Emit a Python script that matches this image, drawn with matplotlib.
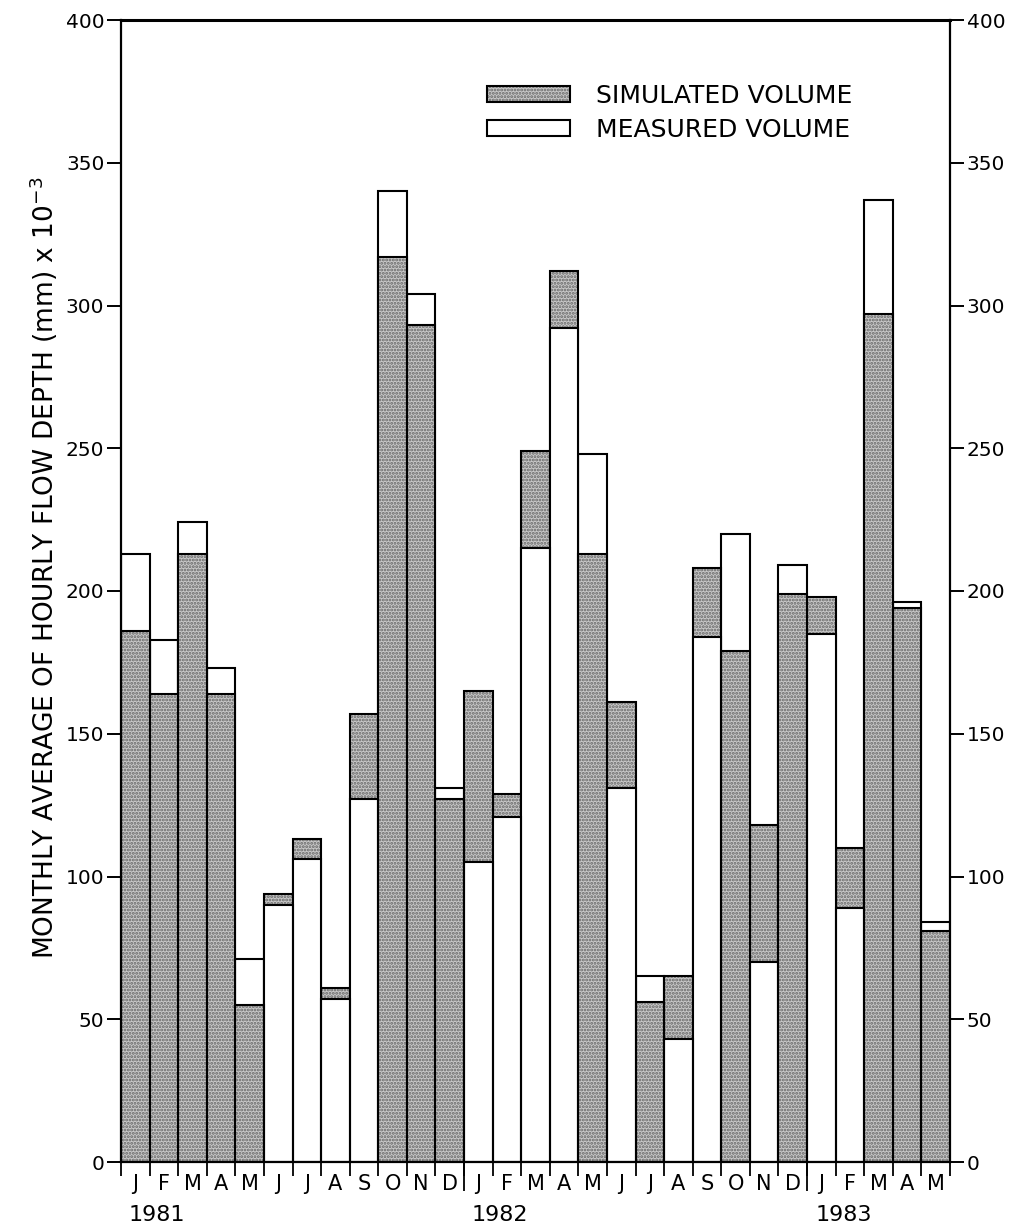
import numpy as np
import matplotlib
matplotlib.use("Agg")
import matplotlib.pyplot as plt
from matplotlib.patches import Patch
from matplotlib.transforms import blended_transform_factory

plt.rcParams["font.family"] = ["DejaVu Sans"]
plt.rcParams["hatch.linewidth"] = 1.4

# monthly values, Jan 1981 .. May 1983
months = list("JFMAMJJASOND") * 2 + list("JFMAM")
years = ["1981", "1982", "1983"]
simulated = [186, 164, 213, 164, 55, 94, 113, 61, 157, 317, 293, 127,
             165, 129, 249, 312, 213, 161, 56, 65, 208, 179, 118, 199,
             198, 110, 297, 194, 81]
measured = [213, 183, 224, 173, 71, 90, 106, 57, 127, 340, 304, 131,
            105, 121, 215, 292, 248, 131, 65, 43, 184, 220, 70, 209,
            185, 89, 337, 196, 84]

GREY = "#c8c8c8"
DOTS = "#666666"
EDGE_LW = 1.5

fig = plt.figure(figsize=(10.2, 12.32), dpi=100)
ax = fig.add_axes([121 / 1020, 1 - 1162 / 1232, 829 / 1020, 1142 / 1232])

n = len(months)
x = np.arange(n)


def draw_bar(i, value, kind, z):
    if kind == "sim":
        ax.bar(i, value, 1.0, color=GREY, hatch=".....", edgecolor=DOTS,
               linewidth=0, zorder=z)
    else:
        ax.bar(i, value, 1.0, color="white", linewidth=0, zorder=z)
    ax.bar(i, value, 1.0, fill=False, edgecolor="black", linewidth=EDGE_LW,
           zorder=z + 0.5)


# taller series goes behind, shorter one on top of it
for i in x:
    pair = sorted([(simulated[i], "sim"), (measured[i], "meas")], reverse=True)
    for k, (val, kind) in enumerate(pair):
        draw_bar(i, val, kind, 2 + 2 * k)

ax.set_xlim(-0.5, n - 0.5)
ax.set_ylim(0, 400)

for side in ["left", "right", "top", "bottom"]:
    ax.spines[side].set_linewidth(1.6)
    ax.spines[side].set_zorder(10)
ax.spines["top"].set_linewidth(2.2)

# y axis on both sides
ax.set_yticks(np.arange(0, 401, 50))
ax.tick_params(axis="y", which="major", left=True, right=True,
               labelleft=True, labelright=True, direction="out",
               length=10, width=1.4, labelsize=14.5, pad=2)

# month boundaries as ticks, month letters at bar centres
ax.set_xticks(np.arange(-0.5, n, 1.0))
ax.set_xticklabels([])
ax.tick_params(axis="x", which="major", direction="out", length=10,
               width=1.3)
ax.set_xticks(x, minor=True)
ax.set_xticklabels(months, minor=True)
ax.tick_params(axis="x", which="minor", length=0, labelsize=15, pad=9)

# longer ticks at year boundaries
sec = ax.secondary_xaxis("bottom")
sec.set_xticks([11.5, 23.5])
sec.set_xticklabels(["", ""])
sec.tick_params(axis="x", direction="out", length=21, width=1.3)
sec.spines["bottom"].set_visible(False)

trans = blended_transform_factory(ax.transData, ax.transAxes)
for k, yr in enumerate(years):
    ax.text(-0.5 + 12 * k + 0.28, -0.046, yr, transform=trans,
            ha="left", va="center", fontsize=16)

ax.set_ylabel(r"MONTHLY AVERAGE OF HOURLY FLOW DEPTH (mm) x 10$^{-3}$",
              fontsize=19, labelpad=4, y=0.52)

# legend
sim_handle = (Patch(facecolor=GREY, hatch=".....", edgecolor=DOTS, linewidth=0),
              Patch(fill=False, edgecolor="black", linewidth=EDGE_LW))
meas_handle = Patch(facecolor="white", edgecolor="black", linewidth=EDGE_LW)
ax.legend([sim_handle, meas_handle], ["SIMULATED VOLUME", "MEASURED VOLUME"],
          loc="upper left", bbox_to_anchor=(0.4415, 0.944), frameon=False,
          fontsize=18, handlelength=3.3, handleheight=0.6,
          handletextpad=1.05, labelspacing=0.4, borderpad=0,
          borderaxespad=0)

fig.savefig("out.png", dpi=100, facecolor="white")
